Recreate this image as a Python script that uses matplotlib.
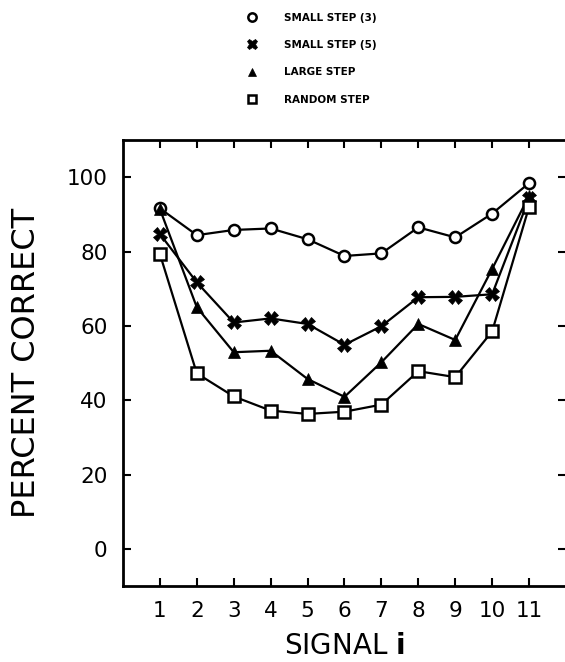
import matplotlib.pyplot as plt
from matplotlib.lines import Line2D

signal = [1, 2, 3, 4, 5, 6, 7, 8, 9, 10, 11]
small_step_3 = [91.6, 84.4, 85.8, 86.2, 83.3, 78.8, 79.5, 86.5, 83.8, 90.2, 98.4]
small_step_5 = [84.7, 71.7, 60.9, 62.0, 60.5, 54.9, 59.9, 67.7, 67.8, 68.5, 94.3]
large_step = [91.4, 65.0, 52.9, 53.3, 45.7, 40.9, 50.2, 60.5, 56.2, 75.3, 95.0]
random_step = [79.3, 47.2, 41.0, 37.2, 36.3, 36.9, 38.8, 47.8, 46.2, 58.5, 92.0]
labels = ["SMALL STEP (3)", "SMALL STEP (5)", "LARGE STEP", "RANDOM STEP"]
yticks = [0, 20, 40, 60, 80, 100]

fig = plt.figure(figsize=(5.65, 6.62), dpi=100)
ax = fig.add_axes([0.2177, 0.1148, 0.784, 0.6737])

# marker styles for the four step types
styles = [
    dict(marker="o", mfc="white", ms=8, mew=1.8),
    dict(marker="X", mfc="black", ms=10, mew=0.5),
    dict(marker="^", mfc="black", ms=8, mew=0.5),
    dict(marker="s", mfc="white", ms=8, mew=1.8),
]
series = [small_step_3, small_step_5, large_step, random_step]
for ys, st in zip(series, styles):
    ax.plot(signal, ys, color="black", lw=1.6, mec="black", **st)

ax.set_xlim(0, 12)
ax.set_ylim(-10, 110)
ax.set_xticks(signal)
ax.set_yticks(yticks)
ax.tick_params(direction="in", length=6, width=1.5, top=True, right=True,
               labelsize=15.5, pad=11)
for s in ["left", "bottom", "top"]:
    ax.spines[s].set_linewidth(2)
ax.spines["right"].set_visible(False)

ax.set_ylabel("PERCENT CORRECT", fontsize=23, labelpad=18)
ax.set_xlabel("SIGNAL $\\mathbf{i}$", fontsize=20, labelpad=8)

handles = [Line2D([], [], color="black", linestyle="none", mec="black", **st)
           for st in styles]
for h in handles:
    h.set_markersize(h.get_markersize() * 0.75)
fig.legend(handles, labels, loc="upper left", bbox_to_anchor=(0.42, 0.995),
           frameon=False, handlelength=1.0, handletextpad=2.6,
           labelspacing=1.66, prop=dict(size=7.5, weight="bold"))

fig.savefig("out.png", dpi=100)
